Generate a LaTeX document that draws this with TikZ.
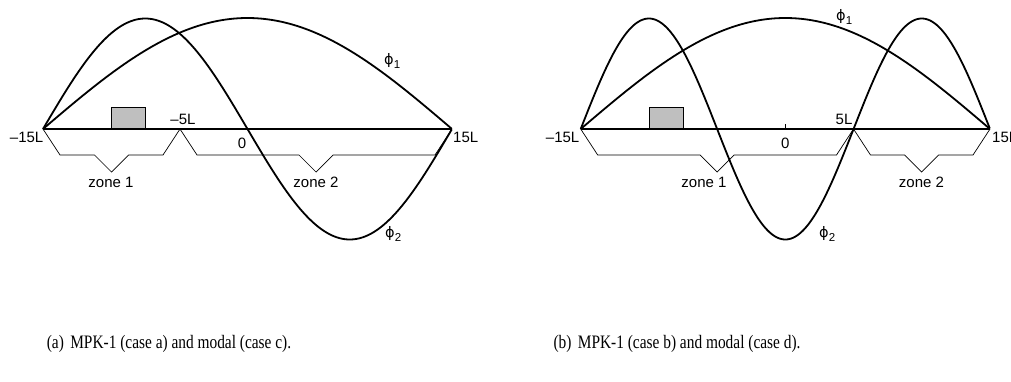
\documentclass[tikz,border=0pt]{standalone}
\usepackage{fontspec}
\usepackage{graphicx}
\setmainfont{Liberation Sans}
\newfontfamily\capfont{Liberation Serif}
\newfontfamily\grk{DejaVu Sans}
\newcommand{\captxt}[1]{\scalebox{0.81}[1]{\capfont\fontsize{19}{19}\selectfont #1}}
\begin{document}
\begin{tikzpicture}[x=1pt,y=-1pt,
  curve/.style={line width=1.8pt, line join=round},
  axisline/.style={line width=1.6pt},
  bracel/.style={line width=0.7pt, line join=miter},
  lbl/.style={inner sep=0pt, font=\fontsize{15}{15}\selectfont},
  philbl/.style={inner sep=0pt, anchor=west, font=\fontsize{14.5}{14.5}\selectfont},
  capt/.style={inner sep=0pt},
  mass/.style={draw, line width=1.4pt, fill=black!25}]
\useasboundingbox (0,0) rectangle (1011,381);
\clip (0,0) rectangle (1011,381);
% ---------- panel (a) ----------
\coordinate (aL) at (43,129);
\coordinate (aM) at (180,129);
\coordinate (aR) at (452,129);
\draw[axisline] (aL) -- (aR);
\draw[bracel] (aL) -- ++(17,26) -- (94.5,155) -- (111.5,172) -- (128.5,155) -- (163,155) -- (aM);
\draw[bracel] (aM) -- ++(17,26) -- (299,155) -- (316,172) -- (333,155) -- (435,155) -- (aR);
\draw[curve] plot[domain=0:1, samples=160] ({43+409*\x},{129-111*sin(180*\x)});
\draw[curve] plot[domain=0:1, samples=200] ({43+409*\x},{129-110.5*sin(360*\x)});
\node[mass, minimum width=34pt, minimum height=21pt, inner sep=0pt, anchor=south west] (amass) at (111,129) {};
\node[lbl, anchor=base east] (am15) at (43.5,142.5) {–15L};
\node[lbl, anchor=base] (am5) at (183,124.5) {–5L};
\node[lbl, anchor=base] (a0) at (242,148.5) {0};
\node[lbl, anchor=base west] (a15) at (453,142.5) {15L};
\node[lbl, anchor=base] (az1) at (111,187) {zone 1};
\node[lbl, anchor=base] (az2) at (316,187) {zone 2};
\node[philbl] (aphi1) at (384,61) {{\grk ϕ}\raisebox{-4pt}{\fontsize{11.5}{11.5}\selectfont 1}};
\node[philbl] (aphi2) at (385,234) {{\grk ϕ}\raisebox{-4pt}{\fontsize{11.5}{11.5}\selectfont 2}};
\node[capt] (capa) at (169,344) {\captxt{(a)\, MPK-1 (case a) and modal (case c).}};
% ---------- panel (b) ----------
\coordinate (bL) at (580.7,129);
\coordinate (bM) at (853.5,129);
\coordinate (bR) at (990,129);
\coordinate (bZ) at (785.3,129);
\draw[axisline] (bL) -- (bR);
\draw[line width=0.7pt] (bZ) -- ++(0,-5);
\draw[bracel] (bL) -- ++(17,26) -- (700,155) -- (717,172) -- (734,155) -- (836.5,155) -- (bM);
\draw[bracel] (bM) -- ++(17,26) -- (904.7,155) -- (921.7,172) -- (938.7,155) -- (973,155) -- (bR);
\draw[curve] plot[domain=0:1, samples=160] ({580.7+409.3*\x},{129-111*sin(180*\x)});
\draw[curve] plot[domain=0:1, samples=240] ({580.7+409.3*\x},{129-110.5*sin(540*\x)});
\node[mass, minimum width=34pt, minimum height=21pt, inner sep=0pt, anchor=south west] (bmass) at (648.5,129) {};
\node[lbl, anchor=base east] (bm15) at (579.5,142.5) {–15L};
\node[lbl, anchor=base] (b0) at (785.3,148.5) {0};
\node[lbl, anchor=base] (b5) at (844,124.5) {5L};
\node[lbl, anchor=base west] (b15) at (992,142.5) {15L};
\node[lbl, anchor=base] (bz1) at (704,187) {zone 1};
\node[lbl, anchor=base] (bz2) at (921.5,187) {zone 2};
\node[philbl] (bphi1) at (836,17) {{\grk ϕ}\raisebox{-4pt}{\fontsize{11.5}{11.5}\selectfont 1}};
\node[philbl] (bphi2) at (819,234) {{\grk ϕ}\raisebox{-4pt}{\fontsize{11.5}{11.5}\selectfont 2}};
\node[capt] (capb) at (677,344) {\captxt{(b)\, MPK-1 (case b) and modal (case d).}};
\end{tikzpicture}
\end{document}
